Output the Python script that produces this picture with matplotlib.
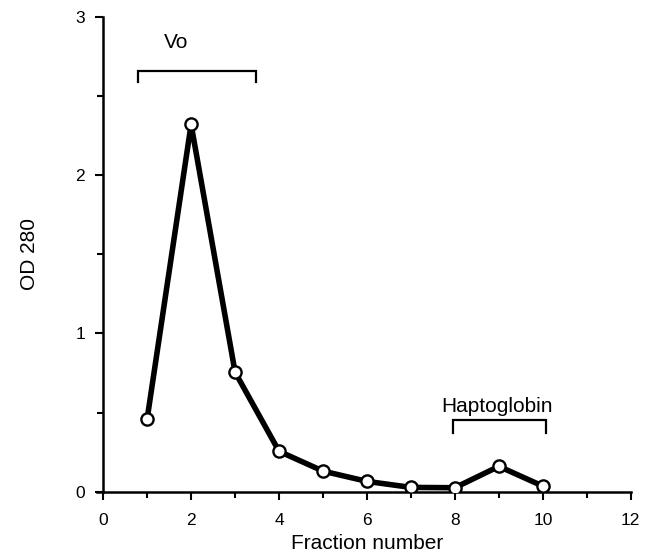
import matplotlib
matplotlib.use("Agg")
import matplotlib.pyplot as plt
from matplotlib.ticker import MultipleLocator

fraction = [1, 2, 3, 4, 5, 6, 7, 8, 9, 10]
od280 = [0.46, 2.32, 0.755, 0.255, 0.13, 0.065, 0.027, 0.025, 0.16, 0.035]

vo_range = [0.8, 3.48]
vo_level = 2.66
hapto_range = [7.95, 10.07]
hapto_level = 0.45

plt.rcParams['font.family'] = ['Liberation Sans', 'DejaVu Sans']

fig = plt.figure(figsize=(6.53, 5.6), dpi=100)
ax = fig.add_axes([0.158, 0.122, 0.808, 0.848])

ax.plot(fraction, od280, color='black', lw=4.0, marker='o', markersize=8.8,
        markerfacecolor='white', markeredgecolor='black', markeredgewidth=1.7,
        solid_joinstyle='miter', zorder=3)

ax.set_xlim(0, 12)
ax.set_ylim(0, 3)
ax.xaxis.set_major_locator(MultipleLocator(2))
ax.xaxis.set_minor_locator(MultipleLocator(1))
ax.yaxis.set_major_locator(MultipleLocator(1))
ax.yaxis.set_minor_locator(MultipleLocator(0.5))
ax.tick_params(which='major', direction='out', length=6, width=1.5, labelsize=12.5, colors='black')
ax.tick_params(axis='x', which='major', pad=9)
ax.tick_params(axis='y', which='major', pad=7)
ax.tick_params(which='minor', direction='out', length=4, width=1.5)

for s in ['top', 'right']:
    ax.spines[s].set_visible(False)
for s in ['left', 'bottom']:
    ax.spines[s].set_linewidth(1.8)
ax.spines['bottom'].set_bounds(-0.15, 12)

ax.set_xlabel('Fraction number', fontsize=15, labelpad=5)
ax.set_ylabel('OD 280', fontsize=15, labelpad=26)

def bracket(x0, x1, y, drop):
    ax.plot([x0, x0, x1, x1], [y - drop, y, y, y - drop], color='black', lw=1.6,
            solid_joinstyle='miter', clip_on=False)

bracket(vo_range[0], vo_range[1], vo_level, 0.07)
ax.text(1.65, 2.84, 'Vo', fontsize=15, ha='center', va='center')
bracket(hapto_range[0], hapto_range[1], hapto_level, 0.08)
ax.text(8.95, 0.54, 'Haptoglobin', fontsize=15, ha='center', va='center')

fig.savefig('out.png', dpi=100)
